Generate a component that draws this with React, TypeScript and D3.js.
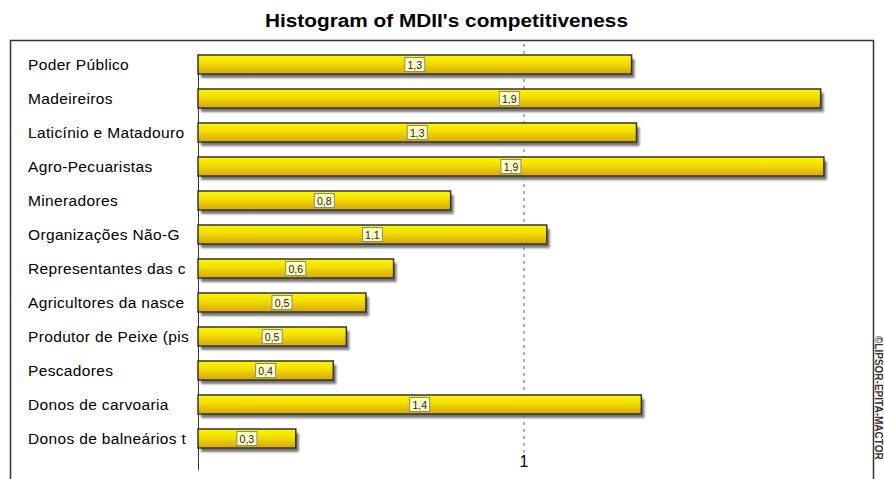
import React from "react";
import * as d3 from "d3";

const categories = [
  "Poder Público",
  "Madeireiros",
  "Laticínio e Matadouro",
  "Agro-Pecuaristas",
  "Mineradores",
  "Organizações Não-G",
  "Representantes das c",
  "Agricultores da nasce",
  "Produtor de Peixe (pis",
  "Pescadores",
  "Donos de carvoaria",
  "Donos de balneários t",
];
const values = [1.33, 1.91, 1.345, 1.92, 0.775, 1.07, 0.6, 0.515, 0.455, 0.415, 1.36, 0.3];
const valueLabels = ["1,3", "1,9", "1,3", "1,9", "0,8", "1,1", "0,6", "0,5", "0,5", "0,4", "1,4", "0,3"];
const xTicks = [1];
const title = "Histogram of MDII's competitiveness";
const watermark = "©LIPSOR-EPITA-MACTOR";

const W = 884;
const H = 479;

export default function App() {
  const x = d3.scaleLinear().domain([0, 1]).range([198, 524]);
  const y = d3.scaleBand<string>().domain(categories).range([55, 448]).paddingInner(15 / 34).paddingOuter(0);
  const bw = y.bandwidth();
  const font = "'Liberation Sans', Arial, sans-serif";

  return (
    <svg width={W} height={H} style={{ position: "absolute", left: 0, top: 0, background: "#fff" }}>
      <defs>
        <linearGradient id="barGrad" x1="0" y1="0" x2="0" y2="1">
          <stop offset="0" stopColor="#fff700" />
          <stop offset="0.45" stopColor="#f2dc00" />
          <stop offset="1" stopColor="#d6a50f" />
        </linearGradient>
        <filter id="blur" x="-5%" y="-50%" width="110%" height="200%">
          <feGaussianBlur stdDeviation="1.3" />
        </filter>
      </defs>
      <rect x={0} y={0} width={W} height={H} fill="#fff" />
      <text
        x={265}
        y={27}
        textLength={363}
        lengthAdjust="spacingAndGlyphs"
        fontFamily={font}
        fontWeight="bold"
        fontSize={18}
        fill="#000"
      >
        {title}
      </text>
      <rect x={10.5} y={40.5} width={863} height={H + 20} fill="none" stroke="#333" strokeWidth={1.5} />
      {xTicks.map((t) => (
        <g key={t}>
          <line x1={x(t)} x2={x(t)} y1={44} y2={456} stroke="#666" strokeDasharray="3,4" strokeWidth={1} />
          <text x={x(t)} y={467} textAnchor="middle" fontFamily={font} fontSize={16} fill="#000">
            {t}
          </text>
        </g>
      ))}
      <line x1={x(0) + 0.5} x2={x(0) + 0.5} y1={55} y2={470} stroke="#333" strokeWidth={1} />
      {categories.map((c, i) => {
        const y0 = y(c) as number;
        const x0 = x(0);
        const x1 = x(values[i]);
        const cx = (x0 + x1) / 2;
        return (
          <g key={c}>
            <text
              x={28}
              y={y0 + bw / 2 + 5}
              fontFamily={font}
              fontSize={15.5}
              letterSpacing={0.35}
              fill="#000"
            >
              {c}
            </text>
            <rect x={x0 + 3} y={y0 + 4} width={x1 - x0} height={bw} fill="#777" filter="url(#blur)" />
            <rect x={x0} y={y0} width={x1 - x0} height={bw} fill="url(#barGrad)" stroke="#333" strokeWidth={1.5} />
            <rect x={cx - 10} y={y0 + 2.5} width={20} height={14} fill="#ffffc8" stroke="#8a8a7a" strokeWidth={1} />
            <text x={cx} y={y0 + 13.5} textAnchor="middle" fontFamily={font} fontSize={10.5} fill="#222">
              {valueLabels[i]}
            </text>
          </g>
        );
      })}
      <text
        transform={`translate(875,336) rotate(90)`}
        fontFamily={font}
        fontSize={10}
        fontWeight="bold"
        fill="#333"
      >
        {watermark}
      </text>
    </svg>
  );
}
